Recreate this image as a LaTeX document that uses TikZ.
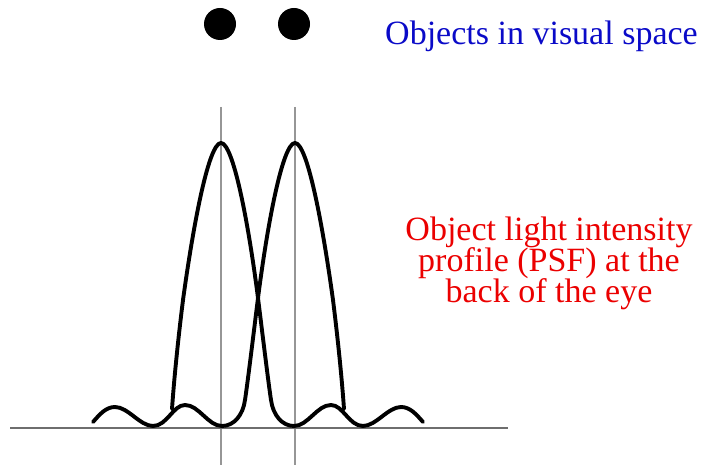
\documentclass[tikz,border=0pt]{standalone}
\usepackage{fontspec}
\setmainfont{Liberation Serif}
\definecolor{labelblue}{RGB}{10,10,200}
\definecolor{labelred}{RGB}{235,0,0}
\definecolor{guide}{RGB}{150,150,150}
\definecolor{axisgray}{RGB}{110,110,110}
\newcommand\psfshape{%
    \draw[curve] (93,422)
      .. controls (100,414) and (106,407) .. (115,407)
      .. controls (128,407) and (140,426) .. (153,426)
      .. controls (167,426) and (173,405) .. (185,405)
      .. controls (199,405) and (208,426) .. (222,426)
      .. controls (234,426) and (243,415) .. (245,400)
      .. controls (248,380) and (254,330) .. (258,298)
      .. controls (268,220) and (283,143) .. (295,143)
      .. controls (307,143) and (322,220) .. (333,300)
      .. controls (338,340) and (342,380) .. (344,409);}
\newcommand\redlabelfont{\fontsize{34}{31.2}\selectfont\lineskiplimit=-100pt\relax\lineskip=0pt\relax}
\tikzset{
  curve/.style={line width=3.9pt, black, line join=round, line cap=round},
  guideline/.style={line width=1.4pt, guide},
  axisline/.style={line width=1.3pt, axisgray},
  objdot/.style={circle, fill=black, minimum size=32pt, inner sep=0pt},
  bluelabel/.style={text=labelblue, font=\fontsize{34}{36}\selectfont, inner sep=0pt, anchor=base},
  redlabel/.style={text=labelred, font=\redlabelfont, inner sep=0pt, align=center, anchor=north},
}
\begin{document}
\begin{tikzpicture}[x=1pt,y=-1pt]
  \useasboundingbox (0,0) rectangle (704,465);
  % guides
  \coordinate (gLtop) at (221,107);
  \coordinate (gLbot) at (221,465);
  \coordinate (gRtop) at (295,107);
  \coordinate (gRbot) at (295,465);
  \draw[guideline] (gLtop) -- (gLbot);
  \draw[guideline] (gRtop) -- (gRbot);
  % axis
  \coordinate (axL) at (10,428);
  \coordinate (axR) at (508,428);
  \draw[axisline] (axL) -- (axR);
  % PSF curves (right one, then its mirror image about x = 258)
  \psfshape
  \begin{scope}[xshift=516pt, xscale=-1]
    \psfshape
  \end{scope}
  % objects
  \node[objdot] (dotL) at (220,24) {};
  \node[objdot] (dotR) at (294,24) {};
  % labels
  \node[bluelabel] (objects) at (541.5,45) {Objects in visual space};
  \node[redlabel] (psflabel) at (549,216.5) {Object light intensity\\profile (PSF) at the\\back of the eye};
\end{tikzpicture}
\end{document}
